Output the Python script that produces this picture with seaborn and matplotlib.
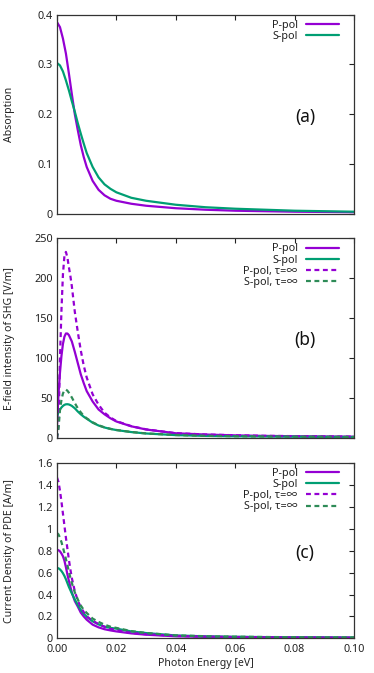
import matplotlib
matplotlib.use("Agg")
import matplotlib.pyplot as plt
import seaborn as sns

# ---- data ----
# (a) Absorption
x_a = [0, .001, .002, .003, .004, .005, .006, .007, .008, .009, .010, .012, .014,
       .016, .018, .020, .025, .030, .040, .050, .060, .070, .080, .090, .100]
abs_p = [0.385, 0.375, 0.352, 0.322, 0.282, 0.240, 0.200, 0.168, 0.138, 0.114, 0.094,
         0.066, 0.048, 0.037, 0.030, 0.026, 0.020, 0.016, 0.011, 0.008, 0.006, 0.005,
         0.004, 0.0035, 0.003]
abs_s = [0.303, 0.298, 0.286, 0.268, 0.248, 0.226, 0.205, 0.182, 0.161, 0.141, 0.122,
         0.094, 0.073, 0.059, 0.050, 0.043, 0.032, 0.026, 0.018, 0.013, 0.010, 0.008,
         0.006, 0.005, 0.004]

# shared energy grid for (b) and (c)
x_bc = [0, .0005, .001, .0015, .002, .0025, .003, .0035, .004, .0045, .005, .006, .007,
        .008, .009, .010, .012, .014, .016, .018, .020, .025, .030, .040, .050, .060,
        .070, .080, .090, .100]

# (b) E-field intensity of SHG [V/m]
shg_p = [15, 55, 82, 103, 118, 127, 131, 131, 129, 125, 121, 108, 94, 80, 69, 59, 46,
         36, 30, 25, 21, 15, 11, 6.3, 4.7, 3.7, 3.0, 2.6, 2.3, 2.0]
shg_s = [27, 33, 36, 38.5, 40.5, 41.8, 42.5, 42.6, 42.3, 41.5, 40.5, 37.5, 33.5, 30, 27,
         24.5, 19.5, 16, 13.5, 11.7, 10.3, 7.8, 6.0, 4.0, 3.0, 2.5, 2.2, 2.0, 1.8, 1.6]
shg_p_inf = [0, 15, 100, 160, 205, 228, 233, 226, 214, 203, 190, 158, 133, 110, 91, 76,
             55, 42, 32, 26, 21.5, 15.2, 11.2, 6.4, 4.8, 3.8, 3.1, 2.7, 2.4, 2.1]
shg_s_inf = [0, 12, 35, 48, 56, 60, 61, 59.5, 57, 54, 51, 44, 37.5, 32.5, 28, 25, 20,
             16.3, 13.7, 11.8, 10.4, 7.9, 6.1, 4.1, 3.1, 2.6, 2.3, 2.1, 1.9, 1.7]

# (c) Current density of PDE [A/m]
pde_p = [0.81, 0.805, 0.795, 0.775, 0.75, 0.71, 0.65, 0.585, 0.525, 0.47, 0.42, 0.34,
         0.29, 0.235, 0.2, 0.17, 0.125, 0.1, 0.083, 0.072, 0.063, 0.045, 0.033, 0.018,
         0.013, 0.010, 0.008, 0.007, 0.006, 0.005]
pde_s = [0.643, 0.64, 0.63, 0.615, 0.595, 0.57, 0.54, 0.505, 0.47, 0.44, 0.41, 0.355,
         0.305, 0.26, 0.225, 0.198, 0.155, 0.127, 0.107, 0.095, 0.088, 0.063, 0.048,
         0.026, 0.018, 0.014, 0.011, 0.009, 0.008, 0.007]
pde_p_inf = [1.47, 1.43, 1.35, 1.25, 1.14, 1.03, 0.92, 0.82, 0.72, 0.63, 0.55, 0.43,
             0.345, 0.285, 0.24, 0.2, 0.16, 0.13, 0.105, 0.087, 0.075, 0.05, 0.037,
             0.022, 0.016, 0.012, 0.010, 0.008, 0.007, 0.006]
pde_s_inf = [0.963, 0.95, 0.92, 0.88, 0.83, 0.78, 0.725, 0.67, 0.61, 0.555, 0.505, 0.42,
             0.355, 0.3, 0.26, 0.232, 0.18, 0.15, 0.125, 0.106, 0.095, 0.066, 0.049,
             0.027, 0.019, 0.015, 0.012, 0.010, 0.009, 0.008]

labels = ["P-pol", "S-pol", "P-pol, τ=∞", "S-pol, τ=∞"]
purple = "#9400d3"
green = "#009e73"
green_dash = "#2e8b57"

sns.set_style("white")
plt.rcParams["font.family"] = ["Noto Sans", "Noto Sans CJK JP", "DejaVu Sans"]

fig = plt.figure(figsize=(3.74, 6.73), dpi=100)
W, H = 374, 673
ax_a = fig.add_axes([57 / W, 1 - 213.7 / H, 297 / W, 199 / H])
ax_b = fig.add_axes([57 / W, 1 - 438.3 / H, 297 / W, 200 / H])
ax_c = fig.add_axes([57 / W, 1 - 638.3 / H, 297 / W, 175 / H])

lw = 1.6
# (a)
sns.lineplot(x=x_a, y=abs_p, ax=ax_a, color=purple, lw=lw, label=labels[0])
sns.lineplot(x=x_a, y=abs_s, ax=ax_a, color=green, lw=lw, label=labels[1])

# (b) and (c)
for ax, p, s, pinf, sinf in [(ax_b, shg_p, shg_s, shg_p_inf, shg_s_inf),
                            (ax_c, pde_p, pde_s, pde_p_inf, pde_s_inf)]:
    sns.lineplot(x=x_bc, y=p, ax=ax, color=purple, lw=lw, label=labels[0])
    sns.lineplot(x=x_bc, y=s, ax=ax, color=green, lw=lw, label=labels[1])
    sns.lineplot(x=x_bc, y=pinf, ax=ax, color=purple, lw=lw, label=labels[2],
                 dashes=False, linestyle=(0, (2.2, 1.6)))
    sns.lineplot(x=x_bc, y=sinf, ax=ax, color=green_dash, lw=lw, label=labels[3],
                 dashes=False, linestyle=(0, (2.2, 1.6)))

ax_a.set_ylim(0, 0.4)
ax_a.set_yticks([0, 0.1, 0.2, 0.3, 0.4], ["0", "0.1", "0.2", "0.3", "0.4"])
ax_b.set_ylim(0, 250)
ax_b.set_yticks([0, 50, 100, 150, 200, 250])
ax_c.set_ylim(0, 1.6)
ax_c.set_yticks([0, 0.2, 0.4, 0.6, 0.8, 1.0, 1.2, 1.4, 1.6],
                ["0", "0.2", "0.4", "0.6", "0.8", "1", "1.2", "1.4", "1.6"])

ylabels = ["Absorption", "E-field intensity of SHG [V/m]", "Current Density of PDE [A/m]"]
for ax, yl, tag, ytag in zip([ax_a, ax_b, ax_c], ylabels, ["(a)", "(b)", "(c)"],
                             [0.486, 0.49, 0.487]):
    ax.set_xlim(0, 0.1)
    ax.set_xticks([0, 0.02, 0.04, 0.06, 0.08, 0.1])
    ax.tick_params(direction="in", length=3.5, width=0.8, top=True, right=True,
                   labelsize=7.8, colors="#222222", pad=3)
    ax.tick_params(axis="x", pad=4)
    for sp in ax.spines.values():
        sp.set_color("#333333")
        sp.set_linewidth(0.9)
    ax.set_ylabel(yl, fontsize=7.6, color="#222222")
    ax.yaxis.set_label_coords(-0.14, 0.5)
    ax.text(0.835, ytag, tag, transform=ax.transAxes, fontsize=12.5,
            ha="center", va="center", color="#111111")
    leg = ax.legend(loc="upper right", bbox_to_anchor=(0.949, 0.975), frameon=False,
                    markerfirst=False, fontsize=7.8, handlelength=3.0, handletextpad=0.8,
                    labelspacing=0.02, borderaxespad=0, borderpad=0)
    # right-align legend texts like gnuplot keys
    for col in leg._legend_handle_box.get_children():
        col.align = "right"
    for t in leg.get_texts():
        t.set_color("#222222")

ax_a.set_xticklabels([])
ax_b.set_xticklabels([])
ax_c.set_xticklabels(["0.00", "0.02", "0.04", "0.06", "0.08", "0.10"])
ax_a.set_xlabel("")
ax_b.set_xlabel("")
ax_c.set_xlabel("Photon Energy [eV]", fontsize=7.6, color="#222222", labelpad=2)

fig.savefig("out.png", dpi=100)
